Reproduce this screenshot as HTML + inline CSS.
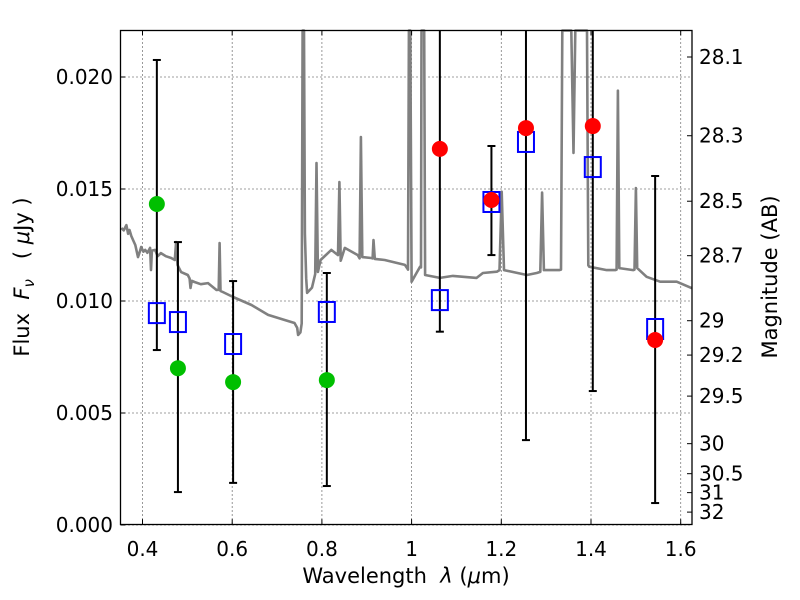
<!DOCTYPE html>
<html><head><meta charset="utf-8"><style>
body{margin:0;background:#fff;}
svg{display:block;font-family:"DejaVu Sans","Liberation Sans",sans-serif;}
.pre{white-space:pre;}
</style></head><body>
<svg id="chart" width="800" height="600" viewBox="0 0 800 600" xmlns="http://www.w3.org/2000/svg">
<rect width="800" height="600" fill="#fff"/>
<g id="grid"></g>
<g id="spec"></g>
<g id="marks"></g>
<rect x="120.5" y="30.5" width="571.5" height="494" fill="none" stroke="#000" stroke-width="1.3"/>
<g id="ticks"></g>
<text class="pre" x="406" y="583" font-size="21" text-anchor="middle">Wavelength  <tspan font-style="italic">λ</tspan> (<tspan font-style="italic">μ</tspan>m)</text>
<text class="pre" transform="translate(29,277) rotate(-90)" font-size="21" text-anchor="middle">Flux  <tspan font-style="italic">F</tspan><tspan font-style="italic" font-size="15" dy="5">ν</tspan><tspan dy="-5">   ( </tspan><tspan font-style="italic">μ</tspan>Jy )</text>
<text transform="translate(777,277) rotate(-90)" font-size="21" text-anchor="middle">Magnitude (AB)</text>
</svg>
<script>
const xTicks=[0.4,0.6,0.8,1.0,1.2,1.4,1.6];
const xTickLabels=["0.4","0.6","0.8","1","1.2","1.4","1.6"];
const yTicks=[0,0.005,0.01,0.015,0.02];
const yTickLabels=["0.000","0.005","0.010","0.015","0.020"];
const magTicks=[28.1,28.3,28.5,28.7,29,29.2,29.5,30,30.5,31,32];
const magTickLabels=["28.1","28.3","28.5","28.7","29","29.2","29.5","30","30.5","31","32"];
const specW=[0.353,0.358,0.364,0.368,0.371,0.375,0.379,0.384,0.390,0.394,0.397,0.402,0.406,0.411,0.417,0.419,0.421,0.428,0.434,0.441,0.452,0.464,0.472,0.475,0.478,0.486,0.501,0.505,0.507,0.510,0.516,0.530,0.546,0.565,0.570,0.572,0.574,0.579,0.602,0.643,0.680,0.717,0.739,0.745,0.747,0.752,0.755,0.757,0.760,0.762,0.765,0.767,0.778,0.785,0.788,0.791,0.797,0.821,0.836,0.839,0.842,0.851,0.880,0.884,0.887,0.890,0.910,0.913,0.915,0.918,0.940,0.985,0.990,0.992,0.994,0.997,1.000,1.011,1.019,1.021,1.022,1.028,1.030,1.063,1.092,1.145,1.159,1.190,1.196,1.201,1.206,1.257,1.279,1.287,1.291,1.295,1.329,1.333,1.336,1.349,1.356,1.361,1.365,1.367,1.389,1.391,1.394,1.396,1.435,1.454,1.457,1.460,1.463,1.494,1.497,1.500,1.503,1.524,1.554,1.591,1.625];
const specF=[0.01326,0.01315,0.01339,0.01300,0.01317,0.01290,0.01272,0.01250,0.01196,0.01220,0.01241,0.01220,0.01228,0.01215,0.01237,0.01138,0.01225,0.01228,0.01200,0.01214,0.01200,0.01192,0.01183,0.01263,0.01161,0.01129,0.01116,0.01100,0.01058,0.01090,0.01085,0.01075,0.01080,0.01049,0.01050,0.01259,0.01045,0.01040,0.01018,0.00982,0.00938,0.00915,0.00902,0.00880,0.00848,0.00860,0.00900,0.03,0.03,0.01300,0.01100,0.01036,0.01060,0.01120,0.01616,0.01130,0.01183,0.01228,0.01205,0.01531,0.01180,0.01237,0.01205,0.01190,0.01732,0.01196,0.01192,0.01190,0.01272,0.01188,0.01183,0.01161,0.01147,0.01140,0.03,0.03,0.01086,0.01125,0.01153,0.01150,0.03,0.03,0.01116,0.01103,0.01112,0.01103,0.01125,0.01131,0.01138,0.01488,0.01138,0.01116,0.01125,0.01130,0.01484,0.01138,0.01138,0.01140,0.03,0.03,0.03,0.01661,0.03,0.03,0.03,0.03,0.01160,0.01153,0.01138,0.01138,0.01140,0.01939,0.01147,0.01138,0.01140,0.01504,0.01147,0.01108,0.01086,0.01086,0.01057];
const greenW=[0.432,0.479,0.602,0.811];
const greenF=[0.01433,0.0070,0.00638,0.00647];
const redW=[1.063,1.178,1.255,1.404,1.543];
const redF=[0.01679,0.01451,0.01772,0.01781,0.00826];
const boxW=[0.432,0.479,0.602,0.811,1.063,1.178,1.255,1.404,1.543];
const boxF=[0.00946,0.00906,0.00808,0.00951,0.01004,0.01442,0.0171,0.01598,0.00875];
const errHi=[0.02076,0.01263,0.01089,0.01125,0.03,0.01692,0.03,0.03,0.01558];
const errLo=[0.00781,0.00147,0.00188,0.00174,0.00863,0.01205,0.00379,0.00598,0.00098];

const L=120.5,R=692,T=30.5,B=524.5;
const X=w=>142.5+(w-0.4)*448.5;
const Y=v=>525-v*22400;
const NS="http://www.w3.org/2000/svg";
function mk(tag,attrs,parent){const e=document.createElementNS(NS,tag);for(const k in attrs)e.setAttribute(k,attrs[k]);parent.appendChild(e);return e;}
const grid=document.getElementById('grid'),ticks=document.getElementById('ticks'),spec=document.getElementById('spec'),marks=document.getElementById('marks');
const cy=v=>Math.max(T,Math.min(B,Y(v)));

xTicks.forEach((t,i)=>{const x=X(t);
 const g=mk('line',{x1:x,x2:x,y1:T,y2:B,stroke:'#000','stroke-width':0.8,'stroke-dasharray':'1,3'},grid);
 
 
 mk('line',{x1:x,x2:x,y1:B,y2:B-5,stroke:'#000','stroke-width':1},ticks);
 mk('line',{x1:x,x2:x,y1:T,y2:T+5,stroke:'#000','stroke-width':1},ticks);
 const tx=mk('text',{x:x,y:556,'font-size':20,'text-anchor':'middle'},ticks);tx.textContent=xTickLabels[i];
 
 
});
yTicks.forEach((t,i)=>{const y=Y(t);
 const g=mk('line',{x1:L,x2:R,y1:y,y2:y,stroke:'#000','stroke-width':0.8,'stroke-dasharray':'1,3'},grid);
 
 
 mk('line',{x1:L,x2:L+5,y1:y,y2:y,stroke:'#000','stroke-width':1},ticks);
 const tx=mk('text',{x:113,y:y+7,'font-size':20,'text-anchor':'end'},ticks);tx.textContent=yTickLabels[i];
 
 
});
magTicks.forEach((m,i)=>{const y=Y(Math.pow(10,(23.9-m)/2.5));
 mk('line',{x1:R-5,x2:R,y1:y,y2:y,stroke:'#000','stroke-width':1},ticks);
 const tx=mk('text',{x:699,y:y+7,'font-size':20,'text-anchor':'start'},ticks);tx.textContent=magTickLabels[i];
 
 
});
const pts=specW.map((w,i)=>X(w).toFixed(1)+','+cy(specF[i]).toFixed(1)).join(' ');
const pl=mk('polyline',{points:pts,fill:'none',stroke:'#808080','stroke-width':2.6,'stroke-linejoin':'round'},spec);


boxW.forEach((w,i)=>{const x=X(w),y1=cy(errHi[i]),y2=cy(errLo[i]);
 const e=mk('g',{},marks);
 
 
 mk('line',{x1:x,x2:x,y1:y1,y2:y2,stroke:'#000','stroke-width':2},e);
 if(errHi[i]<0.0221) mk('line',{x1:x-4,x2:x+4,y1:y1,y2:y1,stroke:'#000','stroke-width':2},e);
 mk('line',{x1:x-4,x2:x+4,y1:y2,y2:y2,stroke:'#000','stroke-width':2},e);
});
greenW.forEach((w,i)=>{const c=mk('circle',{cx:X(w),cy:Y(greenF[i]),r:8,fill:'#00bf00'},marks);
 
 
});
boxW.forEach((w,i)=>{const s=mk('rect',{x:X(w)-8,y:Y(boxF[i])-10,width:16,height:20,fill:'none',stroke:'#0000ff','stroke-width':2},marks);
 
 
});
redW.forEach((w,i)=>{const c=mk('circle',{cx:X(w),cy:Y(redF[i]),r:8,fill:'#ff0000'},marks);
 
 
});
</script>
</body></html>
